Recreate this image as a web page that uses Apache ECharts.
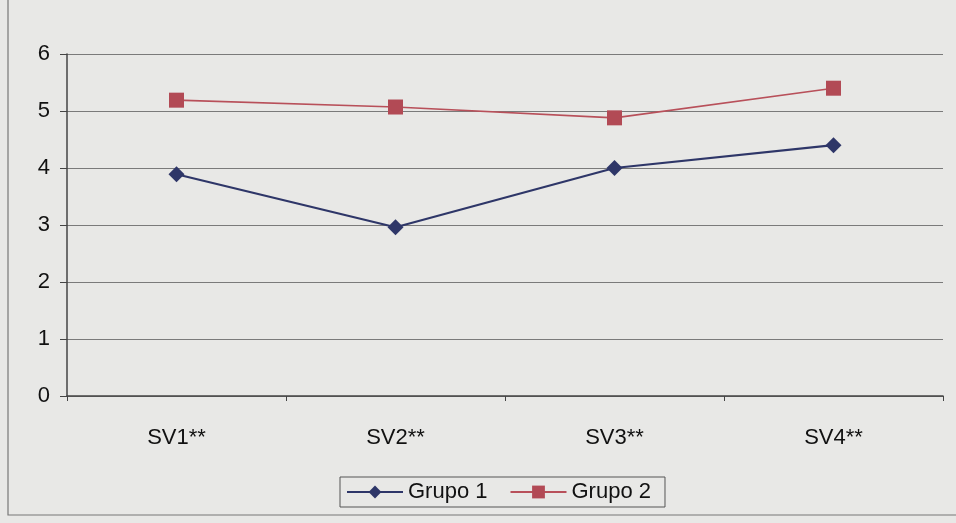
<!DOCTYPE html>
<html><head><meta charset="utf-8">
<script src="https://cdn.jsdelivr.net/npm/echarts@6/dist/echarts.min.js"></script>
<style>html,body{margin:0;padding:0;background:#e8e8e6;}#c{width:956px;height:523px;}</style>
</head><body><div id="c"></div>
<script>
const categories = ['SV1**', 'SV2**', 'SV3**', 'SV4**'];
const grupo1 = [3.89, 2.96, 4.0, 4.4];
const grupo2 = [5.19, 5.07, 4.88, 5.4];
const yTicks = [0, 1, 2, 3, 4, 5, 6];

const chart = echarts.init(document.getElementById('c'));
chart.setOption({
  backgroundColor: '#e8e8e6',
  animation: false,
  graphic: [
    {type: 'rect', shape: {x: 8, y: -2, width: 960, height: 517}, style: {fill: 'none', stroke: '#777', lineWidth: 1.2}, z: -1}
  ],
  grid: {left: 67, right: 13, top: 54, bottom: 127},
  legend: {
    bottom: 16, left: 340,
    itemWidth: 56, itemHeight: 16, itemGap: 22,
    padding: [4, 14, 4, 6],
    borderColor: '#555', borderWidth: 1,
    textStyle: {fontFamily: 'Liberation Sans, Arial', fontSize: 22, color: '#111'},
    data: ['Grupo 1', 'Grupo 2']
  },
  xAxis: {
    type: 'category', data: categories, boundaryGap: true,
    axisLine: {lineStyle: {color: '#444', width: 1.5}},
    axisTick: {show: true, inside: false, length: 5, lineStyle: {color: '#444'}},
    axisLabel: {margin: 31, fontFamily: 'Liberation Sans, Arial', fontSize: 22, color: '#111'}
  },
  yAxis: {
    type: 'value', min: yTicks[0], max: yTicks[yTicks.length - 1], interval: 1,
    axisLine: {show: true, lineStyle: {color: '#444', width: 1.5}},
    axisTick: {show: true, length: 7, lineStyle: {color: '#444'}},
    splitLine: {lineStyle: {color: '#7a7a7a', width: 1.2}},
    axisLabel: {margin: 17, fontFamily: 'Liberation Sans, Arial', fontSize: 22, color: '#111'}
  },
  series: [
    {name: 'Grupo 1', type: 'line', data: grupo1, symbol: 'diamond', symbolSize: 16,
     lineStyle: {color: '#2e3668', width: 2.2}, itemStyle: {color: '#2e3668'}},
    {name: 'Grupo 2', type: 'line', data: grupo2, symbol: 'rect', symbolSize: 15,
     lineStyle: {color: '#b8505a', width: 1.6}, itemStyle: {color: '#b24a55'}}
  ]
});
</script></body></html>
